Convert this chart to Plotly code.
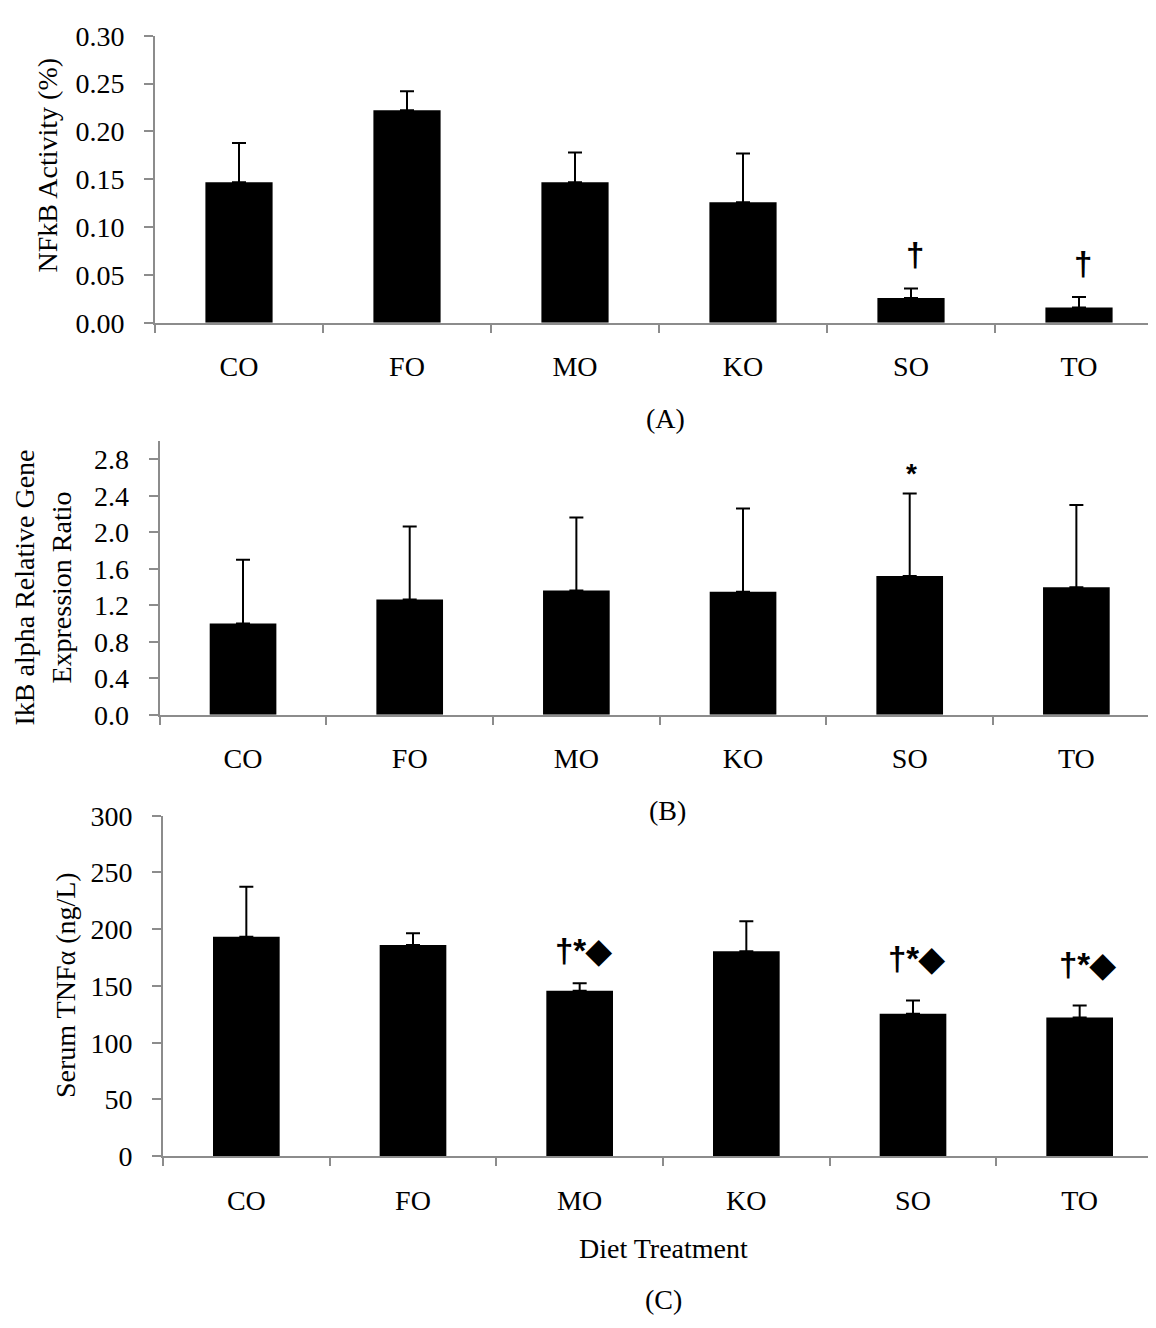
import plotly.graph_objects as go

categories = ["CO", "FO", "MO", "KO", "SO", "TO"]

nfkb = [0.147, 0.222, 0.147, 0.126, 0.026, 0.016]
nfkb_err = [0.041, 0.020, 0.031, 0.051, 0.010, 0.011]

ikb = [1.00, 1.263, 1.362, 1.348, 1.52, 1.398]
ikb_err = [0.70, 0.80, 0.80, 0.913, 0.905, 0.90]

tnf = [193.3, 186.1, 145.7, 180.7, 125.6, 122.2]
tnf_err = [44.2, 10.4, 6.6, 26.3, 11.7, 10.6]

sig_a = ["", "", "", "", "†", "†"]
sig_b = ["", "", "", "", "*", ""]
sig_c = ["", "", "†*◆", "", "†*◆", "†*◆"]

W, H = 1156, 1328
SERIF = "Liberation Serif"
SANS = "Liberation Sans"
AXC = "#8c8c8c"
FS = 28

def px_x(p):
    return p / W

def px_y(p):
    return (H - p) / H

fig = go.Figure()

panels = [
    (nfkb, nfkb_err, "x", "y"),
    (ikb, ikb_err, "x2", "y2"),
    (tnf, tnf_err, "x3", "y3"),
]
for vals, errs, xa, ya in panels:
    fig.add_trace(go.Bar(
        x=categories, y=vals, xaxis=xa, yaxis=ya,
        marker=dict(color="black", line=dict(width=0)),
        error_y=dict(type="data", array=errs, arrayminus=[0] * len(errs),
                     symmetric=False, color="black", thickness=2, width=7),
        showlegend=False,
    ))

xcommon = dict(type="category", tickson="boundaries", ticks="outside", ticklen=8,
               tickwidth=2, tickcolor=AXC, showline=True, linecolor=AXC, linewidth=2,
               showgrid=False, zeroline=False, range=[-0.5, 5.5],
               tickfont=dict(family=SERIF, size=FS, color="black"),
               ticklabelstandoff=18)
ycommon = dict(ticks="outside", ticklen=9, tickwidth=2, tickcolor=AXC, showline=True,
               linecolor=AXC, linewidth=2, showgrid=False, zeroline=False,
               tickfont=dict(family=SERIF, size=FS, color="black"),
               ticklabelstandoff=14)

fig.update_layout(
    width=W, height=H, margin=dict(l=0, r=0, t=0, b=0),
    paper_bgcolor="white", plot_bgcolor="white", bargap=0.6,
    xaxis=dict(domain=[px_x(147), px_x(1155)], anchor="y", **xcommon),
    yaxis=dict(domain=[px_y(307), px_y(13)], anchor="x", range=[0, 0.30],
               dtick=0.05, tickformat=".2f", **ycommon),
    xaxis2=dict(domain=[px_x(151.7), px_x(1151.7)], anchor="y2", **xcommon),
    yaxis2=dict(domain=[px_y(708.3), px_y(428)], anchor="x2", range=[0, 3.0],
                tick0=0, dtick=0.4, tickformat=".1f", **ycommon),
    xaxis3=dict(domain=[px_x(155), px_x(1155)], anchor="y3", **xcommon),
    yaxis3=dict(domain=[px_y(1160.3), px_y(811.7)], anchor="x3", range=[0, 300],
                dtick=50, **ycommon),
)

ann = []
def text_ann(txt, xp, yp, angle=0, size=FS):
    ann.append(dict(text=txt, x=px_x(xp), y=px_y(yp), xref="paper", yref="paper",
                    xanchor="center", yanchor="middle", showarrow=False,
                    textangle=angle, font=dict(family=SERIF, size=size, color="black")))

text_ann("NFkB Activity (%)", 40, 146, -90)
text_ann("IkB alpha Relative Gene<br>Expression Ratio", 35, 578, -90)
text_ann("Serum TNFα (ng/L)", 57, 985, -90)
text_ann("(A)", 658, 405)
text_ann("(B)", 659, 806)
text_ann("Diet Treatment", 655, 1255)
text_ann("(C)", 655, 1307)

def sig_ann(labels, vals, errs, xa, ya, gap_units, xshift, size):
    for c, lab, v, e, g, xs in zip(categories, labels, vals, errs, gap_units, xshift):
        if lab:
            ann.append(dict(text="<b>" + lab + "</b>", x=c, y=v + e + g, xref=xa, yref=ya,
                            xanchor="center", yanchor="middle", showarrow=False,
                            xshift=xs, font=dict(family=SANS, size=size, color="black")))

sig_ann(sig_a, nfkb, nfkb_err, "x", "y", [0, 0, 0, 0, 0.035, 0.035], [0, 0, 0, 0, 4, 4], 33)
sig_ann(sig_b, ikb, ikb_err, "x2", "y2", [0, 0, 0, 0, 0.22, 0], [0, 0, 0, 0, 2, 0], 28)
sig_ann(sig_c, tnf, tnf_err, "x3", "y3", [0, 0, 29, 0, 37, 36], [0, 0, 4, 0, 4, 8], 33)

fig.update_layout(annotations=ann)
fig.write_html("out.html")
